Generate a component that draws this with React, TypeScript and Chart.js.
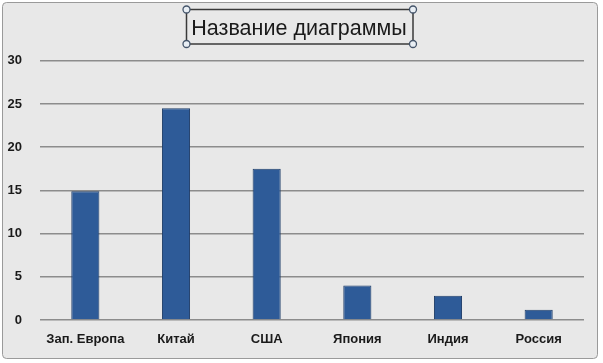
import React, { useEffect, useRef } from "react";
import { Chart, registerables } from "chart.js";

Chart.register(...registerables);

const categories = ["Зап. Европа", "Китай", "США", "Япония", "Индия", "Россия"];
const values = [14.9, 24.5, 17.5, 4.0, 2.8, 1.2];
const chartTitle = "Название диаграммы";
const yMin = 0;
const yMax = 30;
const yStep = 5;

const FONT = "'Liberation Sans', Arial, sans-serif";

const framePlugin = {
  id: "frame",
  beforeDraw(chart: any) {
    const { ctx, width, height } = chart;
    ctx.save();
    ctx.fillStyle = "#ffffff";
    ctx.fillRect(0, 0, width, height);
    const x = 2.5, y = 2.5, w = 595, h = 356, r = 4;
    ctx.beginPath();
    ctx.moveTo(x + r, y);
    ctx.lineTo(x + w - r, y);
    ctx.quadraticCurveTo(x + w, y, x + w, y + r);
    ctx.lineTo(x + w, y + h - r);
    ctx.quadraticCurveTo(x + w, y + h, x + w - r, y + h);
    ctx.lineTo(x + r, y + h);
    ctx.quadraticCurveTo(x, y + h, x, y + h - r);
    ctx.lineTo(x, y + r);
    ctx.quadraticCurveTo(x, y, x + r, y);
    ctx.closePath();
    ctx.fillStyle = "#e8e8e8";
    ctx.fill();
    ctx.lineWidth = 1;
    ctx.strokeStyle = "#9a9a9a";
    ctx.stroke();
    ctx.restore();
  },
  afterDraw(chart: any) {
    const { ctx } = chart;
    ctx.save();
    // title selection box
    const bx = 186.5, by = 9.5, bw = 226.5, bh = 34.5;
    ctx.strokeStyle = "#3a3a3a";
    ctx.lineWidth = 1.5;
    ctx.strokeRect(bx, by, bw, bh);
    const corners = [
      [bx, by],
      [bx + bw, by],
      [bx, by + bh],
      [bx + bw, by + bh],
    ];
    for (const [cx, cy] of corners) {
      ctx.beginPath();
      ctx.arc(cx, cy, 3.5, 0, Math.PI * 2);
      ctx.fillStyle = "#e8eef4";
      ctx.fill();
      ctx.lineWidth = 1.3;
      ctx.strokeStyle = "#44546a";
      ctx.stroke();
    }
    ctx.restore();
  },
};

export default function App() {
  const ref = useRef<HTMLCanvasElement | null>(null);
  useEffect(() => {
    document.body.style.margin = "0";
    const canvas = ref.current!;
    const chart = new Chart(canvas, {
      type: "bar",
      data: {
        labels: categories,
        datasets: [
          {
            data: values,
            backgroundColor: "#2e5b98",
            borderColor: "#1f3d68",
            borderWidth: 1,
            barPercentage: 1,
            categoryPercentage: 0.31,
          },
        ],
      },
      options: {
        animation: false,
        responsive: false,
        devicePixelRatio: 1,
        layout: { padding: { left: 7, right: 12, top: 0, bottom: 10 } },
        plugins: {
          legend: { display: false },
          tooltip: { enabled: false },
          title: {
            display: true,
            text: chartTitle,
            color: "#1a1a1a",
            font: { family: FONT, size: 21.5, weight: "normal" },
            padding: { top: 16, bottom: 19 },
          },
        },
        scales: {
          x: {
            grid: { display: false, drawTicks: false },
            border: { display: false },
            ticks: {
              color: "#1a1a1a",
              font: { family: FONT, size: 13, weight: "bold" },
              padding: 12,
              maxRotation: 0,
              autoSkip: false,
            },
            afterFit(scale: any) {
              scale.height = 33;
            },
          },
          y: {
            min: yMin,
            max: yMax,
            grid: { color: "#8c8c8c", lineWidth: 1.5, drawTicks: false },
            border: { display: false },
            ticks: {
              stepSize: yStep,
              color: "#1a1a1a",
              font: { family: FONT, size: 13, weight: "bold" },
              padding: 18,
            },
            afterFit(scale: any) {
              scale.width = 33;
            },
          },
          yRight: {
            position: "right",
            min: yMin,
            max: yMax,
            grid: { display: false, drawTicks: false },
            border: { display: false },
            ticks: { display: false },
            afterFit(scale: any) {
              scale.width = 7;
            },
          },
        },
      },
      plugins: [framePlugin],
    });
    return () => chart.destroy();
  }, []);
  return <canvas ref={ref} width={603} height={363} style={{ display: "block" }} />;
}
